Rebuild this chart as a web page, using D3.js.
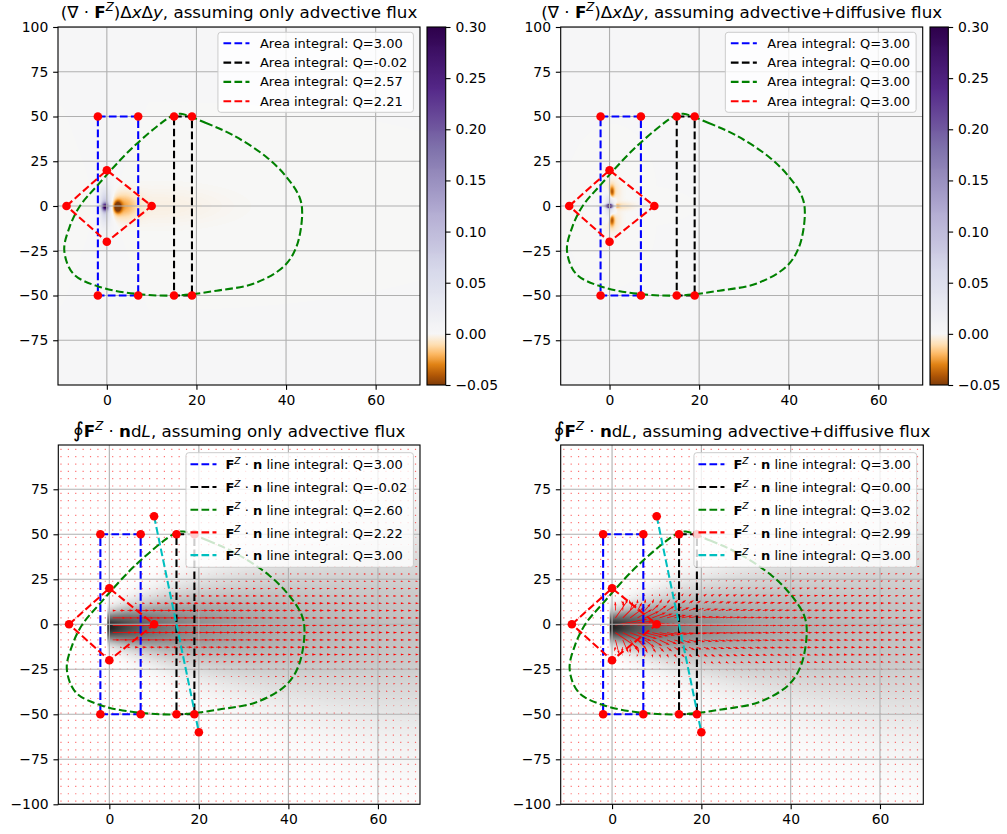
<!DOCTYPE html>
<html>
<head>
<meta charset="utf-8">
<script src="https://cdn.jsdelivr.net/npm/d3@7"></script>
<style>
  body { margin: 0; background: #fff; }
  svg text { font-family: "DejaVu Sans", sans-serif; fill: #000; }
</style>
</head>
<body>
<script>
// ---------------- data ----------------
const sourceQ = 3;

const xTicks = [0, 20, 40, 60];
const yTicksTop = [100, 75, 50, 25, 0, -25, -50, -75];
const yTicksBottom = [75, 50, 25, 0, -25, -50, -75, -100];
const cbarTicks = [-0.05, 0, 0.05, 0.10, 0.15, 0.20, 0.25, 0.30];
const cbarMin = -0.05, cbarMax = 0.30;

// integration contours
const blueX = [-2, 7, 7, -2, -2];
const blueY = [50, 50, -50, -50, 50];
const blackX = [15, 19, 19, 15, 15];
const blackY = [50, 50, -50, -50, 50];
const redX = [-9, 0, 10, 0, -9];
const redY = [0, 20, 0, -20, 0];
const cyanX = [10, 20];
const cyanY = [60, -60];
const greenX = [16.5, 22, 28.2, 35.6, 40.1, 43.0, 43.6, 42.3, 39.4, 32.7, 24.5, 16.3, 7.4, -1.6, -7.5, -9.5, -8.3, -6, -2.1, 5.9, 14.8];
const greenY = [51.5, 46.5, 39.5, 27.4, 16.2, 5, -4, -22.9, -34, -43.4, -47.3, -49.9, -49.3, -45.2, -37.8, -24.7, -11.7, 0, 11.5, 33, 50.7];

// legend values
const areaQAdvective = ["3.00", "-0.02", "2.57", "2.21"];
const areaQDiffusive = ["3.00", "0.00", "3.00", "3.00"];
const lineQAdvective = ["3.00", "-0.02", "2.60", "2.22", "3.00"];
const lineQDiffusive = ["3.00", "0.00", "3.02", "2.99", "3.00"];

// plume: lateral spread along the downwind axis
const plumeX = [0, 1, 3, 6, 10, 20, 30, 40, 50, 60, 70];
const plumeSigma = [4.5, 4.8, 5.6, 6.8, 8.5, 13, 17, 21, 24.5, 28, 31];
const plumeY0 = -1.5;
const diffusivity = 6;
const shadeMax = 0.33;
const shadeGamma = 0.5;

// divergence features (top panels): centre, spread, value
const advBlobX = [-0.4, -0.4, -0.3, 2.4, 3.6, 12];
const advBlobY = [-0.5, 0, 0, -0.5, 0, 0];
const advBlobSx = [0.5, 0.8, 1.3, 0.6, 2.2, 10];
const advBlobSy = [1.5, 6, 14, 2.2, 4.5, 7];
const advBlobV = [0.22, 0.08, 0.012, -0.06, -0.022, -0.003];

const difBlobX = [0, 0, -0.3, 0.5, 0.5, 0.5, 0.5, 1.4, 2.5];
const difBlobY = [0, 0, 0, 7.5, -7.5, 8, -8, 0, 0];
const difBlobSx = [0.5, 0.7, 1.2, 0.4, 0.4, 1.2, 1.2, 0.6, 2];
const difBlobSy = [0.8, 5, 0.5, 2.5, 2.5, 4.5, 4.5, 0.7, 1.5];
const difBlobV = [0.3, 0.06, 0.1, -0.045, -0.045, -0.01, -0.01, -0.04, -0.008];

// matplotlib PuOr anchors (orange -> purple)
const puorColors = ["#7f3b08", "#b35806", "#e08214", "#fdb863", "#fee0b6", "#f7f7f7",
                    "#d8daeb", "#b2abd2", "#8073ac", "#542788", "#2d004b"];

// ---------------- layout ----------------
const svg = d3.select("body").append("svg").attr("width", 1007).attr("height", 834);
const defs = svg.append("defs");

const PT = 1.389;
const tickLen = 3.5 * PT;
const lineW = 1.5 * PT;
const dash = "7.7,3.3";

function makePanel(id, box, xdom, ydom) {
  const x = d3.scaleLinear().domain(xdom).range([box.left, box.left + box.width]);
  const y = d3.scaleLinear().domain(ydom).range([box.top + box.height, box.top]);
  defs.append("clipPath").attr("id", "clip" + id).append("rect")
    .attr("x", box.left).attr("y", box.top).attr("width", box.width).attr("height", box.height);
  const g = svg.append("g");
  const inner = g.append("g").attr("clip-path", `url(#clip${id})`);
  return { id, box, x, y, g, inner };
}

function makeLut(interp) {
  const arr = d3.range(256).map(i => { const c = d3.rgb(interp(i / 255)); return [c.r, c.g, c.b]; });
  return t => arr[Math.max(0, Math.min(255, Math.round(t * 255)))];
}

function paintField(p, colourAt) {
  const W = Math.round(p.box.width), H = Math.round(p.box.height);
  const canvas = document.createElement("canvas");
  canvas.width = W; canvas.height = H;
  const ctx = canvas.getContext("2d");
  const img = ctx.createImageData(W, H);
  for (let j = 0; j < H; j++) {
    const yv = p.y.invert(p.box.top + (j + 0.5) * p.box.height / H);
    for (let i = 0; i < W; i++) {
      const xv = p.x.invert(p.box.left + (i + 0.5) * p.box.width / W);
      const c = colourAt(xv, yv);
      const k = 4 * (j * W + i);
      img.data[k] = c[0]; img.data[k + 1] = c[1]; img.data[k + 2] = c[2]; img.data[k + 3] = 255;
    }
  }
  ctx.putImageData(img, 0, 0);
  p.inner.append("image")
    .attr("x", p.box.left).attr("y", p.box.top)
    .attr("width", p.box.width).attr("height", p.box.height)
    .attr("preserveAspectRatio", "none")
    .attr("href", canvas.toDataURL());
}

function drawGrid(p, yTicks) {
  const gg = p.inner.append("g").attr("stroke", "#b0b0b0").attr("stroke-width", 0.8 * PT);
  xTicks.forEach(t => gg.append("line").attr("x1", p.x(t)).attr("x2", p.x(t))
    .attr("y1", p.box.top).attr("y2", p.box.top + p.box.height));
  yTicks.forEach(t => gg.append("line").attr("y1", p.y(t)).attr("y2", p.y(t))
    .attr("x1", p.box.left).attr("x2", p.box.left + p.box.width));
}

function drawAxes(p, yTicks) {
  const xa = p.g.append("g").attr("transform", `translate(0,${p.box.top + p.box.height})`)
    .call(d3.axisBottom(p.x).tickValues(xTicks).tickSize(tickLen).tickPadding(tickLen));
  const ya = p.g.append("g").attr("transform", `translate(${p.box.left},0)`)
    .call(d3.axisLeft(p.y).tickValues(yTicks).tickSize(tickLen).tickPadding(tickLen));
  [xa, ya].forEach(a => {
    a.select(".domain").remove();
    a.selectAll("line").attr("stroke-width", 0.8 * PT);
    a.selectAll("text").style("font-size", "13.9px").style("font-family", '"DejaVu Sans", sans-serif');
  });
  p.g.append("rect").attr("x", p.box.left).attr("y", p.box.top)
    .attr("width", p.box.width).attr("height", p.box.height)
    .attr("fill", "none").attr("stroke", "#000").attr("stroke-width", 0.8 * PT);
}

function zip(xs, ys) { return xs.map((v, i) => [v, ys[i]]); }

function drawContours(p, withCyan) {
  const line = d3.line().x(d => p.x(d[0])).y(d => p.y(d[1]));
  const closed = d3.line().x(d => p.x(d[0])).y(d => p.y(d[1])).curve(d3.curveCatmullRomClosed.alpha(0.5));
  const lg = p.inner.append("g").attr("fill", "none").attr("stroke-width", lineW).attr("stroke-dasharray", dash);
  lg.append("path").attr("d", line(zip(blueX, blueY))).attr("stroke", "#0000ff");
  lg.append("path").attr("d", line(zip(blackX, blackY))).attr("stroke", "#000000");
  lg.append("path").attr("d", closed(zip(greenX, greenY))).attr("stroke", "#008000");
  lg.append("path").attr("d", line(zip(redX, redY))).attr("stroke", "#ff0000");
  if (withCyan) lg.append("path").attr("d", line(zip(cyanX, cyanY))).attr("stroke", "#00bfbf");

  let pts = zip(blueX.slice(0, 4), blueY.slice(0, 4))
    .concat(zip(blackX.slice(0, 4), blackY.slice(0, 4)))
    .concat(zip(redX.slice(0, 4), redY.slice(0, 4)));
  if (withCyan) pts = pts.concat(zip(cyanX, cyanY));
  p.inner.append("g").selectAll("circle").data(pts).enter().append("circle")
    .attr("cx", d => p.x(d[0])).attr("cy", d => p.y(d[1])).attr("r", 4.3).attr("fill", "#ff0000");
}

function richText(t, parts, fs) {
  let shift = 0;
  parts.forEach(pt => {
    const ts = t.append("tspan").text(pt.t);
    if (pt.b) ts.style("font-weight", "bold");
    if (pt.i) ts.style("font-style", "italic");
    if (pt.big) ts.style("font-size", (fs * 1.25) + "px");
    if (pt.sup) { ts.attr("dy", -0.42 * fs).style("font-size", (fs * 0.7) + "px"); shift = 0.42 * fs; }
    else if (shift) { ts.attr("dy", shift); shift = 0; }
  });
}

function drawLegend(p, rows, o) {
  const lg = p.g.append("g");
  const bg = lg.append("rect");
  let maxW = 0;
  rows.forEach((r, k) => {
    const cy = o.first + k * o.gap;
    lg.append("line").attr("x1", o.handleX).attr("x2", o.handleX + 26).attr("y1", cy).attr("y2", cy)
      .attr("stroke", r.color).attr("stroke-width", lineW).attr("stroke-dasharray", dash);
    const t = lg.append("text").attr("x", o.textX).attr("y", cy + o.baseline).style("font-size", "13px");
    richText(t, r.parts, 13);
    maxW = Math.max(maxW, t.node().getComputedTextLength());
  });
  const bw = o.textX + maxW + 6;
  bg.attr("width", bw).attr("height", o.height).attr("rx", 2.8)
    .attr("fill", "#fff").attr("fill-opacity", 0.8).attr("stroke", "#cccccc").attr("stroke-width", 1);
  const right = p.box.left + p.box.width - 6.6;
  lg.attr("transform", `translate(${right - bw},${p.box.top + o.inset})`);
}

function drawTitle(p, parts, baseline) {
  const t = svg.append("text").attr("x", p.box.left + p.box.width / 2).attr("y", baseline)
    .attr("text-anchor", "middle").style("font-size", "16.7px");
  richText(t, parts, 16.7);
}

// ---------------- colour maps ----------------
const divNorm = v => v < 0 ? 0.5 * (v - cbarMin) / (0 - cbarMin) : 0.5 + 0.5 * v / cbarMax;
const puorLut = makeLut(d3.piecewise(d3.interpolateRgb, puorColors));
const greyLut = makeLut(d3.interpolateGreys);
const shade = d3.scalePow().exponent(shadeGamma).domain([0, shadeMax]).range([0, 1]).clamp(true);
const sigmaAt = d3.scaleLinear().domain(plumeX).range(plumeSigma).clamp(true);

function blobSum(X, Y, SX, SY, V) {
  return (x, y) => {
    let s = 0;
    for (let k = 0; k < V.length; k++) {
      const dx = (x - X[k]) / SX[k], dy = (y - Y[k]) / SY[k];
      s += V[k] * Math.exp(-0.5 * (dx * dx + dy * dy));
    }
    return s;
  };
}

function conc(x, y) {
  if (x < -0.5) return 0;
  const s = sigmaAt(Math.max(x, 0));
  const e = (y - plumeY0) / s;
  return sourceQ / (Math.sqrt(2 * Math.PI) * s) * Math.exp(-0.5 * e * e);
}

function drawColorbar(p, left, width) {
  const top = p.box.top, h = p.box.height;
  const cy = d3.scaleLinear().domain([cbarMin, cbarMax]).range([top + h, top]);
  const gid = "grad" + p.id;
  const grad = defs.append("linearGradient").attr("id", gid)
    .attr("x1", 0).attr("y1", 1).attr("x2", 0).attr("y2", 0);
  d3.range(0, 141).forEach(i => {
    const v = cbarMin + i * (cbarMax - cbarMin) / 140;
    const c = puorLut(divNorm(v));
    grad.append("stop").attr("offset", (v - cbarMin) / (cbarMax - cbarMin))
      .attr("stop-color", `rgb(${c[0]},${c[1]},${c[2]})`);
  });
  svg.append("rect").attr("x", left).attr("y", top).attr("width", width).attr("height", h)
    .attr("fill", `url(#${gid})`).attr("stroke", "#000").attr("stroke-width", 0.8 * PT);
  const a = svg.append("g").attr("transform", `translate(${left + width},0)`)
    .call(d3.axisRight(cy).tickValues(cbarTicks).tickFormat(d3.format(".2f")).tickSize(tickLen).tickPadding(tickLen));
  a.select(".domain").remove();
  a.selectAll("line").attr("stroke-width", 0.8 * PT);
  a.selectAll("text").style("font-size", "13.9px").style("font-family", '"DejaVu Sans", sans-serif');
}

// ---------------- quiver ----------------
const quivX = d3.range(49).map(k => -10.8 + 1.65 * k);
const quivY = d3.range(49).map(k => -98.2 + 4.07 * k);
const arrowScale = 95;

function flux(x, y, withDiffusion) {
  const c = conc(x, y);
  if (!withDiffusion) return [c, 0];
  const h = 0.2;
  const dcdx = (conc(x + h, y) - conc(x - h, y)) / (2 * h);
  const dcdy = (conc(x, y + h) - conc(x, y - h)) / (2 * h);
  return [c - diffusivity * dcdx, -diffusivity * dcdy];
}

function drawQuiver(p, withDiffusion) {
  const w = 0.8, hw = 3 * w, hl = 5 * w, hal = 4.5 * w;
  let arrows = "", dots = "";
  quivX.forEach(gx => quivY.forEach(gy => {
    const f = flux(gx, gy, withDiffusion);
    const px = p.x(gx), py = p.y(gy);
    const dx = f[0] * arrowScale, dy = -f[1] * arrowScale;
    const L = Math.hypot(dx, dy);
    if (L < w) { dots += `M${px - 0.6},${py - 0.6}h1.2v1.2h-1.2Z`; return; }
    let pts;
    if (L >= hl) {
      pts = [[0, -w / 2], [L - hal, -w / 2], [L - hl, -hw / 2], [L, 0], [L - hl, hw / 2], [L - hal, w / 2], [0, w / 2]];
    } else {
      const s = L / hl;
      pts = [[0, -w / 2], [hl - hal, -w / 2], [0, -hw / 2], [hl, 0], [0, hw / 2], [hl - hal, w / 2], [0, w / 2]]
        .map(q => [q[0] * s, q[1] * s]);
    }
    const ca = dx / L, sa = dy / L;
    arrows += "M" + pts.map(q => `${(px + q[0] * ca - q[1] * sa).toFixed(2)},${(py + q[0] * sa + q[1] * ca).toFixed(2)}`).join("L") + "Z";
  }));
  p.inner.append("path").attr("d", dots).attr("fill", "#ff0000").attr("fill-opacity", 0.55);
  p.inner.append("path").attr("d", arrows).attr("fill", "#ff0000");
}

// ---------------- panels ----------------
const pTL = makePanel("tl", { left: 58, top: 27, width: 362, height: 358 }, [-10.9, 69.9], [-100, 100]);
const pTR = makePanel("tr", { left: 560.7, top: 27, width: 362, height: 358 }, [-10.9, 69.9], [-100, 100]);
const pBL = makePanel("bl", { left: 58.3, top: 445, width: 361.7, height: 359.3 }, [-11.4, 69.4], [-100, 99.6]);
const pBR = makePanel("br", { left: 560.7, top: 445, width: 362.6, height: 359.3 }, [-11.5, 69.7], [-100, 99.6]);

const advField = blobSum(advBlobX, advBlobY, advBlobSx, advBlobSy, advBlobV);
const difField = blobSum(difBlobX, difBlobY, difBlobSx, difBlobSy, difBlobV);

paintField(pTL, (x, y) => puorLut(divNorm(advField(x, y))));
paintField(pTR, (x, y) => puorLut(divNorm(difField(x, y))));
paintField(pBL, (x, y) => greyLut(shade(conc(x, y))));
paintField(pBR, (x, y) => greyLut(shade(conc(x, y))));

drawQuiver(pBL, false);
drawQuiver(pBR, true);

[[pTL, yTicksTop], [pTR, yTicksTop], [pBL, yTicksBottom], [pBR, yTicksBottom]].forEach(([p, yt]) => {
  drawGrid(p, yt);
});
drawContours(pTL, false);
drawContours(pTR, false);
drawContours(pBL, true);
drawContours(pBR, true);
[[pTL, yTicksTop], [pTR, yTicksTop], [pBL, yTicksBottom], [pBR, yTicksBottom]].forEach(([p, yt]) => {
  drawAxes(p, yt);
});

drawColorbar(pTL, 427, 18.7);
drawColorbar(pTR, 930, 18.3);

const lineColors = ["#0000ff", "#000000", "#008000", "#ff0000", "#00bfbf"];
const areaRows = qs => qs.map((q, i) => ({ color: lineColors[i], parts: [{ t: "Area integral: Q=" + q }] }));
const lineRows = qs => qs.map((q, i) => ({
  color: lineColors[i],
  parts: [{ t: "F", b: 1 }, { t: "Z", i: 1, sup: 1 }, { t: " · " }, { t: "n", b: 1 }, { t: " line integral: Q=" + q }]
}));
const topLegend = { first: 11, gap: 19.3, height: 80, inset: 5.3, handleX: 5.5, textX: 42, baseline: 4.6 };
const botLegend = { first: 11.6, gap: 22.7, height: 114.6, inset: 7.7, handleX: 4.5, textX: 39.5, baseline: 5.2 };
drawLegend(pTL, areaRows(areaQAdvective), topLegend);
drawLegend(pTR, areaRows(areaQDiffusive), topLegend);
drawLegend(pBL, lineRows(lineQAdvective), botLegend);
drawLegend(pBR, lineRows(lineQDiffusive), botLegend);

const divTitle = tail => [{ t: "(∇ · " }, { t: "F", b: 1 }, { t: "Z", i: 1, sup: 1 }, { t: ")Δ" }, { t: "x", i: 1 },
  { t: "Δ" }, { t: "y", i: 1 }, { t: ", assuming " + tail }];
const intTitle = tail => [{ t: "∮", big: 1 }, { t: "F", b: 1 }, { t: "Z", i: 1, sup: 1 }, { t: " · " }, { t: "n", b: 1 },
  { t: "d" }, { t: "L", i: 1 }, { t: ", assuming " + tail }];
drawTitle(pTL, divTitle("only advective flux"), 18);
drawTitle(pTR, divTitle("advective+diffusive flux"), 18);
drawTitle(pBL, intTitle("only advective flux"), 437);
drawTitle(pBR, intTitle("advective+diffusive flux"), 437);
</script>
</body>
</html>
